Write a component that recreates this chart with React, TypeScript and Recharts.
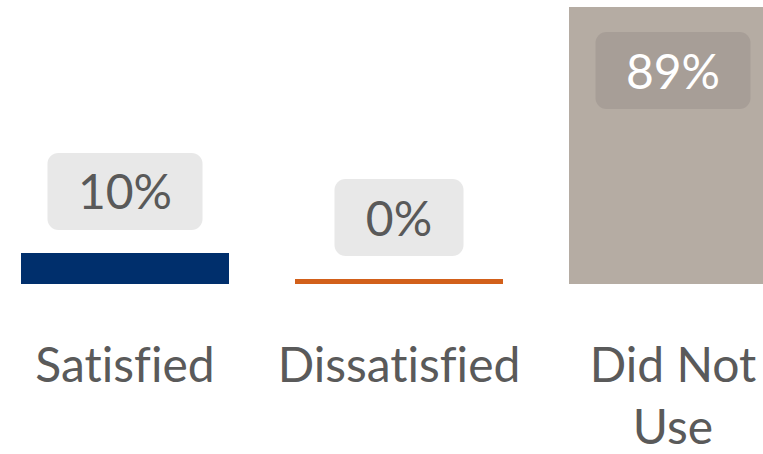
import { Bar, BarChart, Cell, LabelList, XAxis, YAxis } from "recharts";

const categories = ["Satisfied", "Dissatisfied", "Did Not Use"];
const shares = [10, 0, 89];

const barColors = ["#002f6c", "#d2601a", "#b5aca3"];
const font = "Lato, 'Open Sans', sans-serif";

const data = categories.map((category, i) => ({
  category,
  share: shares[i],
}));

// greedy word wrap, measured with a canvas
const wrapWords = (label: string, maxWidth: number) => {
  const ctx = document.createElement("canvas").getContext("2d");
  if (!ctx) return [label];
  ctx.font = `48px ${font}`;
  const lines: string[] = [];
  let line = "";
  label.split(" ").forEach((word) => {
    const next = line ? `${line} ${word}` : word;
    if (line && ctx.measureText(next).width > maxWidth) {
      lines.push(line);
      line = word;
    } else {
      line = next;
    }
  });
  if (line) lines.push(line);
  return lines;
};

const CategoryTick = (props: any) => {
  const { x, y, payload } = props;
  const lines = wrapWords(payload.value, 208);
  return (
    <text
      textAnchor="middle"
      fontSize={48}
      fontFamily={font}
      fill="#5a5a5a"
      style={{ fontVariantLigatures: "none", fontFeatureSettings: '"liga" 0' }}
    >
      {lines.map((line, i) => (
        <tspan key={line} x={x} y={y + 98 + i * 62}>
          {line}
        </tspan>
      ))}
    </text>
  );
};

const ShareLabel = (props: any) => {
  const { x, y, width, value } = props;
  const text = `${value}%`;
  const boxW = 77 + 26 * text.length;
  const boxH = 77;
  const inside = value > 50;
  const cx = Number(x) + Number(width) / 2;
  const boxY = inside ? Number(y) + 25 : Number(y) - 23 - boxH;

  return (
    <g>
      <rect
        x={cx - boxW / 2}
        y={boxY}
        width={boxW}
        height={boxH}
        rx={11}
        fill={inside ? "#a79e97" : "#e8e8e8"}
      />
      <text
        x={cx}
        y={boxY + boxH / 2 + 18}
        textAnchor="middle"
        fontSize={48}
        fontFamily={font}
        fill={inside ? "#ffffff" : "#595959"}
      >
        {text}
      </text>
    </g>
  );
};

export default function App() {
  return (
    <div
      style={{
        position: "fixed",
        top: 0,
        left: 0,
        width: 763,
        height: 454,
        overflow: "hidden",
        background: "#fff",
      }}
    >
      <div style={{ marginLeft: -12 }}>
        <BarChart
          width={822}
          height={454}
          data={data}
          margin={{ top: 7, right: 0, bottom: 0, left: 0 }}
        >
          <XAxis
            dataKey="category"
            axisLine={false}
            tickLine={false}
            tickSize={0}
            tickMargin={0}
            interval={0}
            height={170}
            tick={(p: any) => <CategoryTick {...p} />}
          />
          <YAxis hide domain={[0, "dataMax"]} />
          <Bar
            dataKey="share"
            barSize={208}
            minPointSize={5}
            isAnimationActive={false}
          >
            {data.map((d, i) => (
              <Cell key={d.category} fill={barColors[i]} />
            ))}
            <LabelList dataKey="share" content={(p: any) => <ShareLabel {...p} />} />
          </Bar>
        </BarChart>
      </div>
    </div>
  );
}
